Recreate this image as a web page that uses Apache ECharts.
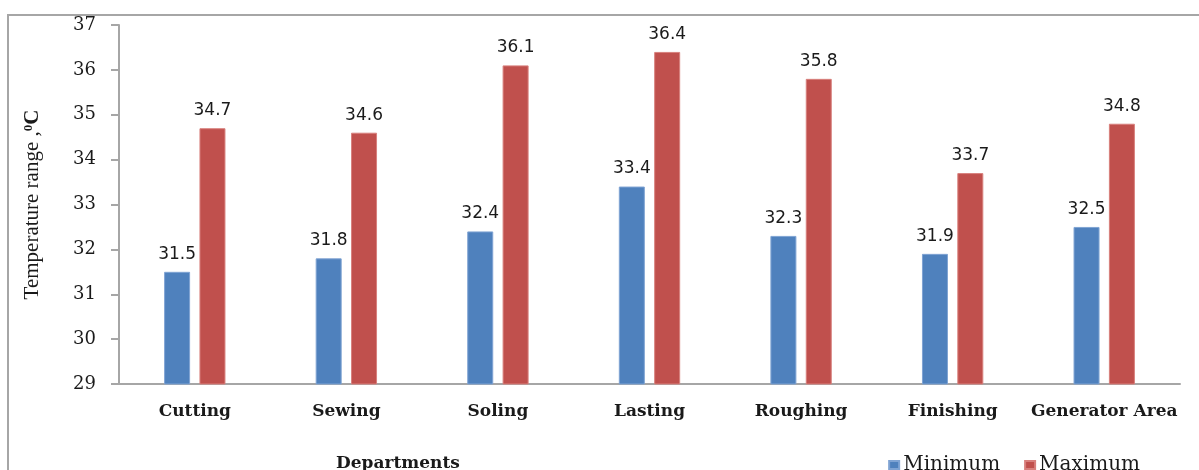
<!DOCTYPE html>
<html>
<head>
<meta charset="utf-8">
<script src="https://cdn.jsdelivr.net/npm/echarts@6/dist/echarts.min.js"></script>
<style>
  html, body { margin: 0; padding: 0; background: #fff; }
  #main { width: 1199px; height: 470px; }
</style>
</head>
<body>
<div id="main"></div>
<script>
// departments and their temperature range (deg C)
var departments = ['Cutting', 'Sewing', 'Soling', 'Lasting', 'Roughing', 'Finishing', 'Generator Area'];
var minTemp = [31.5, 31.8, 32.4, 33.4, 32.3, 31.9, 32.5];
var maxTemp = [34.7, 34.6, 36.1, 36.4, 35.8, 33.7, 34.8];
var yTicks = [29, 30, 31, 32, 33, 34, 35, 36, 37];

var myChart = echarts.init(document.getElementById('main'));

var serif = '"Liberation Serif", "Times New Roman", serif';
var wideSerif = '"DejaVu Serif", Cambria, serif';
var valLabel = {
	show : true,
	position : 'top',
	distance : 9,
	fontFamily : '"DejaVu Sans", Verdana, sans-serif',
	fontSize : 17,
	color : '#1a1a1a'
};

var option = {
	animation : false,
	backgroundColor : '#fff',
	title : {
		text : 'Departments',
		left : 331,
		top : 450,
		textStyle : { fontFamily : wideSerif, fontWeight : 'bold', fontSize : 17, color : '#1a1a1a' }
	},
	legend : {
		data : [ 'Minimum', 'Maximum' ],
		right : 54,
		top : 450,
		itemWidth : 10,
		itemHeight : 8,
		itemGap : 24,
		icon : 'rect',
		textStyle : { fontFamily : wideSerif, fontSize : 20, color : '#1a1a1a', padding : [0, 0, 0, -1] }
	},
	grid : { left : 119, right : 19, top : 25, bottom : 86 },
	xAxis : {
		type : 'category',
		data : departments,
		axisLine : { lineStyle : { color : '#a6a6a6', width : 2 } },
		axisTick : { show : false },
		axisLabel : { interval : 0, margin : 19, fontFamily : wideSerif, fontWeight : 'bold', fontSize : 17, color : '#1a1a1a' }
	},
	yAxis : {
		type : 'value',
		min : yTicks[0],
		max : yTicks[yTicks.length - 1],
		interval : 1,
		name : 'Temperature range ,{sup|0}{b|C}',
		nameLocation : 'middle',
		nameGap : 76,
		nameTextStyle : {
			fontFamily : serif, fontSize : 21, color : '#1a1a1a',
			rich : {
				sup : { fontFamily : serif, fontSize : 13, fontWeight : 'bold', color : '#1a1a1a', verticalAlign : 'top', padding : [0, 0, 8, 0] },
				b : { fontFamily : serif, fontSize : 21, fontWeight : 'bold', color : '#1a1a1a' }
			}
		},
		axisLine : { show : true, lineStyle : { color : '#a6a6a6', width : 2 } },
		axisTick : { show : true, length : 8, lineStyle : { color : '#a6a6a6', width : 2 } },
		splitLine : { show : false },
		axisLabel : { margin : 23, fontFamily : wideSerif, fontSize : 18, color : '#1a1a1a' }
	},
	graphic : [ {
		type : 'rect',
		shape : { x : 8, y : 15, width : 1200, height : 470 },
		style : { fill : 'none', stroke : '#a6a6a6', lineWidth : 2 },
		silent : true
	} ],
	series : [ {
		name : 'Minimum',
		type : 'bar',
		data : minTemp,
		barWidth : 26,
		barGap : '36%',
		itemStyle : { color : '#4f81bd', borderColor : '#7fa3d3', borderWidth : 1 },
		label : valLabel
	}, {
		name : 'Maximum',
		type : 'bar',
		data : maxTemp,
		barWidth : 26,
		itemStyle : { color : '#c0504d', borderColor : '#d8807d', borderWidth : 1 },
		label : valLabel
	} ]
};
myChart.setOption(option);
</script>
</body>
</html>
